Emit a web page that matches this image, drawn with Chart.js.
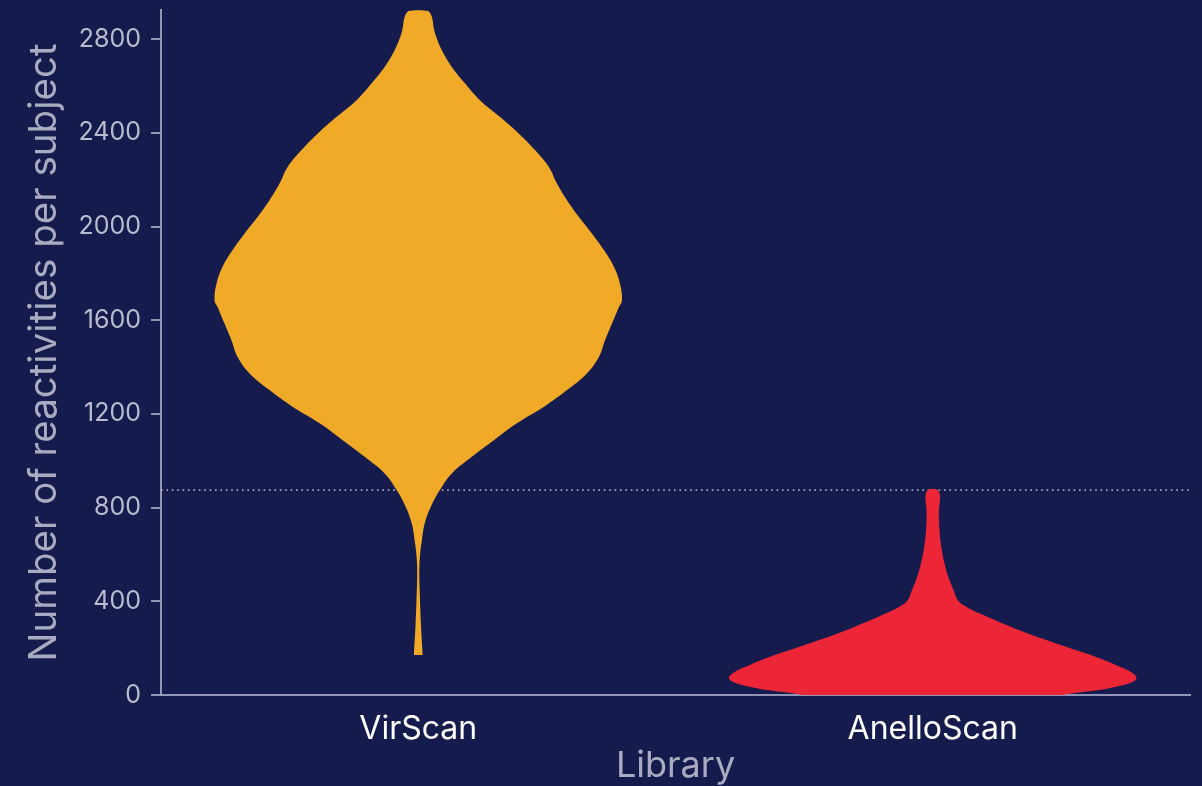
<!DOCTYPE html>
<html>
<head>
<meta charset="utf-8">
<title>Reactivities per subject by library</title>
<script src="https://cdn.jsdelivr.net/npm/chart.js@4.4.1/dist/chart.umd.min.js"></script>
<style>
  html, body { margin: 0; padding: 0; background: #151c4d; }
  canvas { display: block; }
</style>
</head>
<body>
<canvas id="violins" width="1202" height="786"></canvas>
<script>
// categories on the x axis
const categories = ["VirScan", "AnelloScan"];

// y axis tick values
const yTicks = [0, 400, 800, 1200, 1600, 2000, 2400, 2800];

// VirScan: reactivity levels and the relative density (widest = 1) at each level
const virscanLevels = [171, 178, 306, 448, 519, 590, 662, 733, 804, 875, 946, 1017, 1088, 1160,
  1231, 1302, 1373, 1444, 1515, 1586, 1657, 1686, 1757, 1828, 1899, 1970, 2041, 2113, 2184,
  2255, 2326, 2397, 2468, 2539, 2611, 2682, 2753, 2824, 2921];
const virscanDensity = [0.021, 0.021, 0.013, 0.007, 0.005, 0.008, 0.018, 0.032, 0.062, 0.106,
  0.165, 0.263, 0.371, 0.484, 0.617, 0.730, 0.828, 0.887, 0.917, 0.951, 0.985, 1.0, 0.990,
  0.961, 0.912, 0.853, 0.789, 0.730, 0.681, 0.641, 0.574, 0.494, 0.402, 0.304, 0.230, 0.165,
  0.116, 0.083, 0.049];

// AnelloScan: same layout
const anelloLevels = [0, 7, 35, 74, 135, 206, 277, 349, 377, 405, 448, 491, 562, 633, 704, 775, 871];
const anelloDensity = [0.64, 0.687, 0.899, 1.0, 0.882, 0.654, 0.425, 0.229, 0.164, 0.123, 0.102,
  0.082, 0.058, 0.042, 0.033, 0.030, 0.029];

// dotted reference line
const cutoff = 875;

const yMax = 2925;
const halfWidth = 0.396; // half-width of the widest part of a violin, in category units

const violinColors = ["#f0aa27", "#ec2637"];
const axisColor = "rgba(160,164,192,0.9)";
const fontFamily = "Inter, 'Open Sans', sans-serif";

// outline of one violin: right edge going up, then left edge coming back down
function violinOutline(center, levels, density) {
  const right = levels.map((y, i) => ({ x: center + density[i] * halfWidth, y: y }));
  const left = levels.map((y, i) => ({ x: center - density[i] * halfWidth, y: y })).reverse();
  return right.concat(left);
}

const violinData = [
  violinOutline(0, virscanLevels, virscanDensity),
  violinOutline(1, anelloLevels, anelloDensity),
];

const datasets = violinData.map((pts, i) => ({
  label: categories[i],
  data: pts,
  showLine: true,
  fill: "shape",
  backgroundColor: violinColors[i],
  borderColor: violinColors[i],
  borderWidth: 0,
  pointRadius: 0,
  tension: 0.4,
  order: 1,
}));

datasets.push({
  label: "cutoff",
  data: [{ x: -0.5, y: cutoff }, { x: 1.5, y: cutoff }],
  showLine: true,
  fill: false,
  borderColor: "rgba(190,194,216,0.85)",
  borderWidth: 1.6,
  borderDash: [1.6, 3.8],
  pointRadius: 0,
  order: 2,
});

new Chart(document.getElementById("violins"), {
  type: "scatter",
  data: { datasets: datasets },
  options: {
    responsive: false,
    animation: false,
    layout: { padding: { top: 0, right: 12, left: 0, bottom: 0 } },
    plugins: {
      legend: { display: false },
      tooltip: { enabled: false },
    },
    scales: {
      x: {
        type: "linear",
        min: -0.5,
        max: 1.5,
        afterBuildTicks: (scale) => {
          scale.ticks = categories.map((c, i) => ({ value: i }));
        },
        afterFit: (scale) => {
          scale.height = 91;
        },
        grid: { display: false, drawTicks: false, drawOnChartArea: false },
        border: { display: true, color: axisColor, width: 2 },
        ticks: {
          autoSkip: false,
          maxRotation: 0,
          padding: 15,
          color: "#ffffff",
          font: { family: fontFamily, size: 32 },
          callback: (v) => categories[v] ?? "",
        },
        title: {
          display: true,
          text: "Library",
          color: "#a9acc0",
          font: { family: fontFamily, size: 36 },
          padding: { top: 0, bottom: -2 },
        },
      },
      y: {
        min: 0,
        max: yMax,
        afterBuildTicks: (scale) => {
          scale.ticks = yTicks.map((v) => ({ value: v }));
        },
        afterFit: (scale) => {
          scale.width = 161;
          scale.paddingTop = 10;
          scale.paddingBottom = 0;
        },
        grid: {
          drawOnChartArea: false,
          drawTicks: true,
          tickLength: 10,
          color: axisColor,
          lineWidth: 2,
        },
        border: { display: true, color: axisColor, width: 2 },
        ticks: {
          padding: 10,
          color: "#b9bccd",
          font: { family: fontFamily, size: 25 },
          callback: (v) => String(v),
        },
        title: {
          display: true,
          text: "Number of reactivities per subject",
          color: "#a9acc0",
          font: { family: fontFamily, size: 38.5 },
          padding: { top: 21, bottom: 0 },
        },
      },
    },
  },
});
</script>
</body>
</html>
